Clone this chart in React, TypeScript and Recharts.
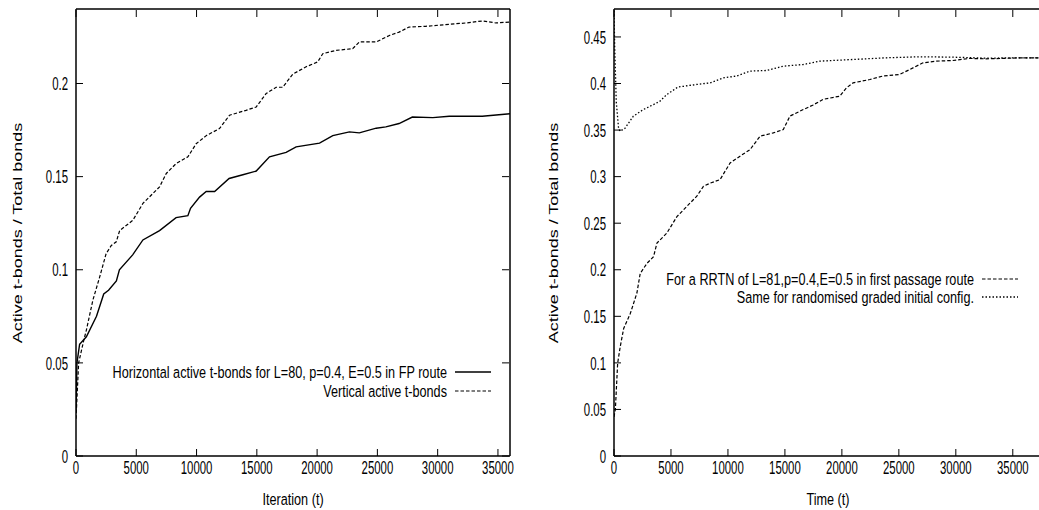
import { LineChart, Line, XAxis, YAxis } from 'recharts'

// left panel: horizontal / vertical active t-bonds, FP route
const horizT = [0, 80, 300, 860, 1700, 2300, 2700, 3350, 3600, 4700, 5550, 6930, 8300, 9280, 9500, 10250, 10800, 11500, 12700, 13840, 14950, 16050, 17430, 18260, 20200, 21300, 22680, 23500, 24900, 25700, 26800, 27900, 29600, 30960, 33700, 36000]
const horizV = [0.024, 0.05, 0.06, 0.064, 0.075, 0.087, 0.089, 0.094, 0.1, 0.108, 0.116, 0.121, 0.128, 0.129, 0.133, 0.139, 0.142, 0.142, 0.149, 0.151, 0.153, 0.1606, 0.163, 0.166, 0.168, 0.172, 0.174, 0.1735, 0.176, 0.1767, 0.1785, 0.182, 0.1817, 0.1824, 0.1824, 0.1838]

const vertT = [0, 220, 640, 860, 1400, 1960, 2500, 2930, 3340, 3620, 4720, 5550, 6930, 7490, 8300, 9280, 9970, 10800, 11900, 12740, 14100, 14950, 15770, 16600, 17150, 17980, 19090, 20050, 20470, 21570, 22950, 23500, 24900, 26000, 26800, 27620, 29000, 30960, 32350, 33730, 34830, 36000]
const vertV = [0.02, 0.05, 0.062, 0.0676, 0.0837, 0.096, 0.1087, 0.113, 0.115, 0.121, 0.1266, 0.1356, 0.1445, 0.1517, 0.157, 0.1606, 0.1677, 0.172, 0.1758, 0.183, 0.1856, 0.1874, 0.1946, 0.198, 0.198, 0.205, 0.209, 0.2116, 0.216, 0.2178, 0.2187, 0.2223, 0.2223, 0.2258, 0.2276, 0.2303, 0.2307, 0.2318, 0.2325, 0.2336, 0.2325, 0.233]

// right panel: RRTN first passage vs randomised graded start
const fpT = [0, 120, 320, 550, 850, 1430, 2010, 2300, 2900, 3470, 3770, 4640, 5520, 6390, 7270, 7850, 8440, 9310, 10190, 11060, 11940, 12820, 13980, 14860, 15440, 16610, 17480, 18360, 19820, 20400, 20990, 22450, 23610, 25070, 25950, 27120, 28280, 29740, 31200, 32660, 34120, 35580, 37300]
const fpV = [0.042, 0.05, 0.0996, 0.1176, 0.137, 0.153, 0.175, 0.196, 0.207, 0.214, 0.2287, 0.2394, 0.257, 0.268, 0.279, 0.2896, 0.293, 0.2968, 0.3147, 0.322, 0.329, 0.3434, 0.347, 0.3505, 0.365, 0.372, 0.377, 0.383, 0.3864, 0.3953, 0.4007, 0.4043, 0.408, 0.4097, 0.415, 0.4222, 0.424, 0.4247, 0.4269, 0.4265, 0.4269, 0.4276, 0.4276]

const gradedT = [0, 60, 200, 400, 530, 965, 1690, 2570, 3470, 4035, 4620, 5640, 6100, 7270, 8440, 9600, 10770, 11940, 13400, 14860, 16610, 18070, 20990, 23900, 26820, 29740, 32660, 35580, 37300]
const gradedV = [0.478, 0.44, 0.38, 0.352, 0.3487, 0.352, 0.3648, 0.372, 0.3774, 0.381, 0.388, 0.3964, 0.397, 0.399, 0.4007, 0.406, 0.408, 0.4133, 0.414, 0.4186, 0.4204, 0.424, 0.4258, 0.4276, 0.4287, 0.4283, 0.4272, 0.4276, 0.4276]

const xTicks = [0, 5000, 10000, 15000, 20000, 25000, 30000, 35000]
const leftYTicks = [0, 0.05, 0.1, 0.15, 0.2]
const rightYTicks = [0, 0.05, 0.1, 0.15, 0.2, 0.25, 0.3, 0.35, 0.4, 0.45]

const toPoints = (t: number[], v: number[]) => t.map((x, i) => ({ t: x, v: v[i] }))

const FONT = '"Liberation Sans", Arial, sans-serif'
const FS = 17
const SX = 0.745
const TICK_FS = 19
const TICK_SX = 0.6
const TICK = 7

const bottomTick = (props: any) => {
  const { x, y, payload } = props
  return (
    <g>
      <line x1={x} x2={x} y1={y} y2={y - TICK} stroke='#000' />
      <text
        transform={`translate(${x},${y + 11}) scale(${TICK_SX},1)`}
        textAnchor='middle'
        dominantBaseline='central'
        fontSize={TICK_FS}
        fontFamily={FONT}
        fill='#000'>
        {payload.value}
      </text>
    </g>
  )
}

const topTick = (props: any) => {
  const { x, y } = props
  return <line x1={x} x2={x} y1={y + 1} y2={y + 1 + TICK} stroke='#000' />
}

const leftTick = (props: any) => {
  const { x, y, payload } = props
  return (
    <g>
      <line x1={x} x2={x + TICK} y1={y} y2={y} stroke='#000' />
      <text
        transform={`translate(${x - 8},${y}) scale(${TICK_SX},1)`}
        textAnchor='end'
        dominantBaseline='central'
        fontSize={TICK_FS}
        fontFamily={FONT}
        fill='#000'>
        {payload.value}
      </text>
    </g>
  )
}

const rightTick = (props: any) => {
  const { x, y } = props
  return <line x1={x - 1} x2={x - 1 - TICK} y1={y} y2={y} stroke='#000' />
}

const Txt = ({ x, y, anchor, children }: any) => (
  <text
    transform={`translate(${x},${y}) scale(${SX},1)`}
    textAnchor={anchor}
    dominantBaseline='central'
    fontSize={FS}
    fontFamily={FONT}
    fill='#000'>
    {children}
  </text>
)

const YTitle = ({ x, y }: any) => (
  <text
    transform={`translate(${x},${y}) rotate(-90) scale(1,0.75)`}
    textAnchor='middle'
    dominantBaseline='central'
    fontSize={18}
    fontFamily={FONT}
    fill='#000'>
    Active t-bonds / Total bonds
  </text>
)

const axisLine = { stroke: '#000', strokeWidth: 1.5 }

const App = () => {
  return (
    <div style={{ position: 'absolute', left: 0, top: 0, width: 1039, height: 510, background: '#fff' }}>
      <div style={{ position: 'absolute', left: 0, top: 0 }}>
        <LineChart
          width={520}
          height={510}
          margin={{ top: 8, right: 9, bottom: 0, left: 0 }}>
          <XAxis
            dataKey='t'
            type='number'
            domain={[0, 36000]}
            ticks={xTicks}
            interval={0}
            height={54}
            tickSize={0}
            tickMargin={0}
            tick={bottomTick}
            axisLine={axisLine}
            allowDataOverflow
          />
          <XAxis
            xAxisId='top'
            dataKey='t'
            orientation='top'
            type='number'
            domain={[0, 36000]}
            ticks={xTicks}
            interval={0}
            height={1}
            tickSize={0}
            tickMargin={0}
            tick={topTick}
            axisLine={axisLine}
            allowDataOverflow
          />
          <YAxis
            type='number'
            domain={[0, 0.24]}
            ticks={leftYTicks}
            interval={0}
            width={76}
            tickSize={0}
            tickMargin={0}
            tick={leftTick}
            axisLine={axisLine}
            allowDataOverflow
          />
          <YAxis
            yAxisId='right'
            orientation='right'
            type='number'
            domain={[0, 0.24]}
            ticks={leftYTicks}
            interval={0}
            width={1}
            tickSize={0}
            tickMargin={0}
            tick={rightTick}
            axisLine={axisLine}
            allowDataOverflow
          />
          <Line
            data={toPoints(horizT, horizV)}
            dataKey='v'
            type='linear'
            stroke='#000'
            strokeWidth={1.4}
            dot={false}
            isAnimationActive={false}
          />
          <Line
            data={toPoints(vertT, vertV)}
            dataKey='v'
            xAxisId='top'
            yAxisId='right'
            type='linear'
            stroke='#000'
            strokeWidth={1.2}
            strokeDasharray='3.5 2'
            dot={false}
            isAnimationActive={false}
          />
        </LineChart>
        <svg width={520} height={510} style={{ position: 'absolute', left: 0, top: 0, pointerEvents: 'none' }}>
          <YTitle x={17} y={233} />
          <Txt x={293} y={499} anchor='middle'>Iteration (t)</Txt>
          <Txt x={447} y={372} anchor='end'>Horizontal active t-bonds for L=80, p=0.4, E=0.5 in FP route</Txt>
          <line x1={455} x2={491} y1={372} y2={372} stroke='#000' strokeWidth={1.4} />
          <Txt x={447} y={391} anchor='end'>Vertical active t-bonds</Txt>
          <line x1={455} x2={491} y1={391} y2={391} stroke='#000' strokeWidth={1.2} strokeDasharray='3.5 2' />
        </svg>
      </div>
      <div style={{ position: 'absolute', left: 520, top: 0 }}>
        <LineChart
          width={519}
          height={510}
          margin={{ top: 8, right: 0, bottom: 0, left: 0 }}>
          <XAxis
            dataKey='t'
            type='number'
            domain={[0, 37300]}
            ticks={xTicks}
            interval={0}
            height={54}
            tickSize={0}
            tickMargin={0}
            tick={bottomTick}
            axisLine={axisLine}
            allowDataOverflow
          />
          <XAxis
            xAxisId='top'
            dataKey='t'
            orientation='top'
            type='number'
            domain={[0, 37300]}
            ticks={xTicks}
            interval={0}
            height={1}
            tickSize={0}
            tickMargin={0}
            tick={topTick}
            axisLine={axisLine}
            allowDataOverflow
          />
          <YAxis
            type='number'
            domain={[0, 0.48]}
            ticks={rightYTicks}
            interval={0}
            width={94}
            tickSize={0}
            tickMargin={0}
            tick={leftTick}
            axisLine={axisLine}
            allowDataOverflow
          />
          <Line
            data={toPoints(fpT, fpV)}
            dataKey='v'
            type='linear'
            stroke='#000'
            strokeWidth={1.2}
            strokeDasharray='3.5 2'
            dot={false}
            isAnimationActive={false}
          />
          <Line
            data={toPoints(gradedT, gradedV)}
            dataKey='v'
            xAxisId='top'
            type='linear'
            stroke='#000'
            strokeWidth={1.3}
            strokeDasharray='1.5 2'
            dot={false}
            isAnimationActive={false}
          />
        </LineChart>
        <svg width={519} height={510} style={{ position: 'absolute', left: 0, top: 0, pointerEvents: 'none' }}>
          <YTitle x={33} y={233} />
          <Txt x={308} y={499} anchor='middle'>Time (t)</Txt>
          <Txt x={454} y={279} anchor='end'>For a RRTN of L=81,p=0.4,E=0.5 in first passage route</Txt>
          <line x1={462} x2={498} y1={279} y2={279} stroke='#000' strokeWidth={1.2} strokeDasharray='3.5 2' />
          <Txt x={454} y={297} anchor='end'>Same for randomised graded initial config.</Txt>
          <line x1={462} x2={498} y1={297} y2={297} stroke='#000' strokeWidth={1.3} strokeDasharray='1.5 2' />
        </svg>
      </div>
    </div>
  )
}

export default App
